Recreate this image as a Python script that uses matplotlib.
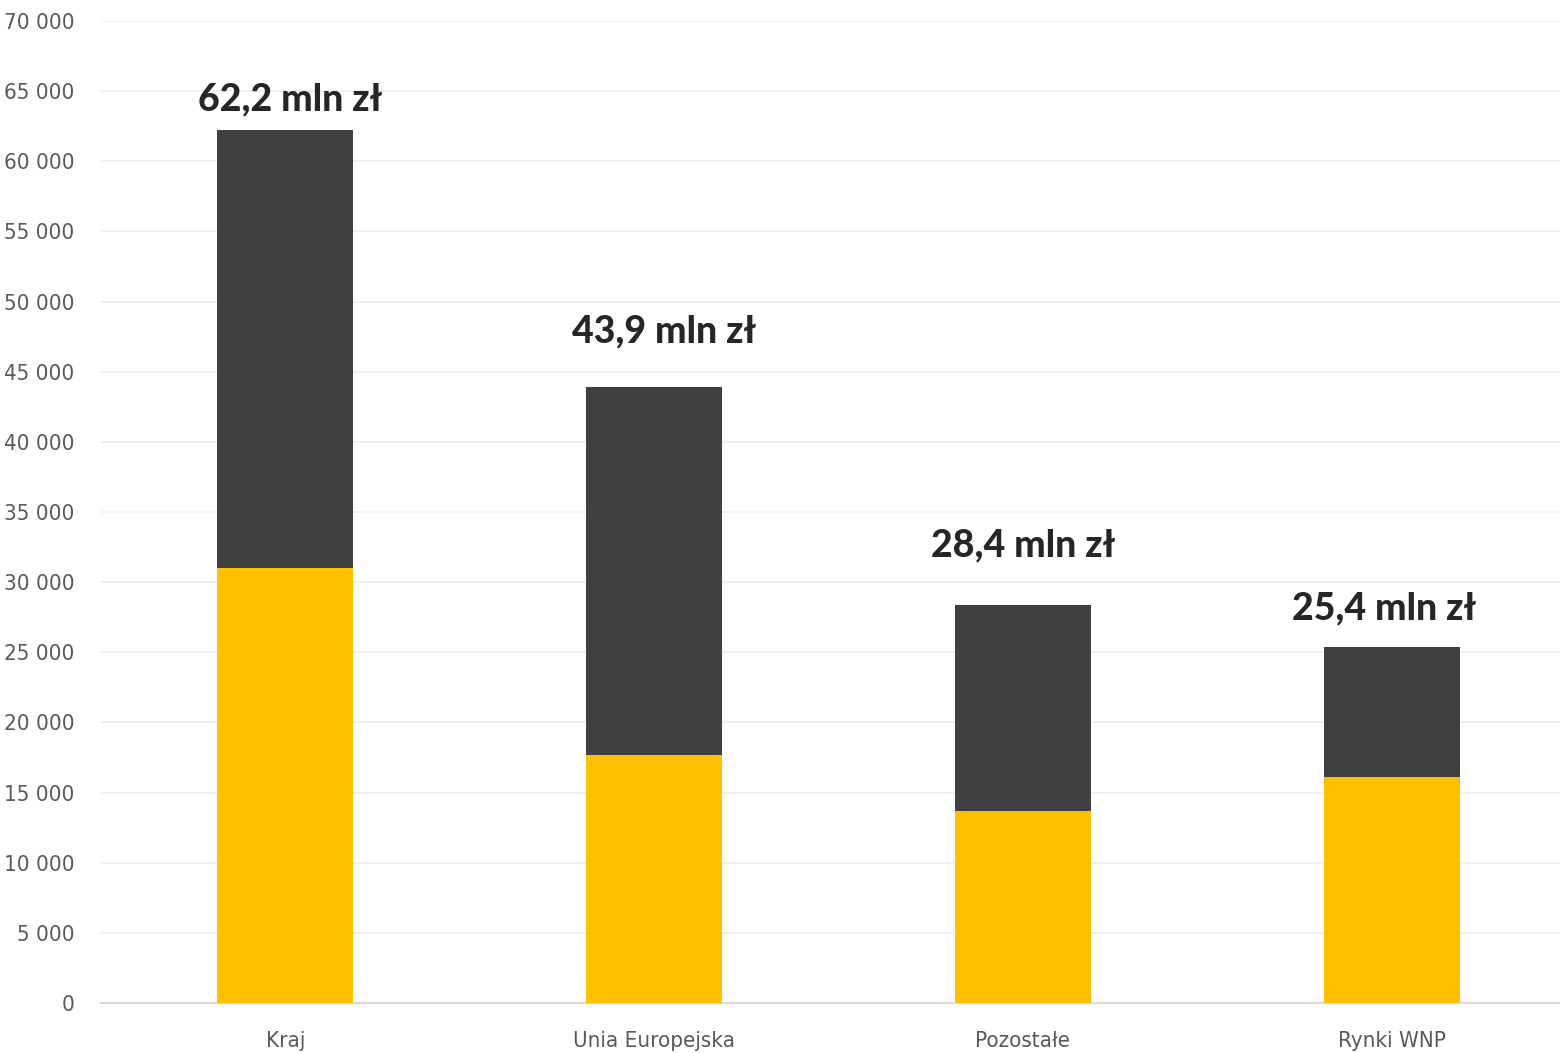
import matplotlib
matplotlib.use("Agg")
import matplotlib.pyplot as plt
import matplotlib.ticker as ticker
import numpy as np

### Data ###
categories = ["Kraj", "Unia Europejska", "Pozostałe", "Rynki WNP"]
bottom_part = [31000, 17700, 13700, 16100]
totals = [62200, 43900, 28400, 25400]
top_labels = ["62,2 mln zł", "43,9 mln zł", "28,4 mln zł", "25,4 mln zł"]
y_ticks = list(range(0, 70001, 5000))

top_part = [t - b for t, b in zip(totals, bottom_part)]

# label nudges (pixels) -- the original labels were placed by hand
label_dx = [5, 10, 0, -7]
label_dy = [20, 45, 48, 27]

label_font = ["Lato", "DejaVu Sans"]

fig = plt.figure(figsize=(15.6, 10.53), dpi=100)
ax = fig.add_axes([101 / 1560, 1 - 1003 / 1053, 1475 / 1560, 982 / 1053])

x = np.arange(len(categories))
ax.bar(x, bottom_part, width=0.369, color="#ffc000", zorder=3)
ax.bar(x, top_part, bottom=bottom_part, width=0.369, color="#404040", zorder=3)

for xi, tot, lab, dx, dy in zip(x, totals, top_labels, label_dx, label_dy):
    ax.annotate(lab, (xi, tot), xytext=(dx, dy), textcoords="offset pixels",
                ha="center", va="baseline", fontsize=27, fontweight="black",
                family=label_font, color="#262626")

ax.set_xlim(-0.5, len(categories) - 0.5)
ax.set_ylim(0, 70000)
ax.set_yticks(y_ticks)
ax.yaxis.set_major_formatter(ticker.FuncFormatter(lambda v, p: f"{int(v):,}".replace(",", " ")))
ax.set_xticks(x)
ax.set_xticklabels(categories)

ax.grid(axis="y", color="#efefef", lw=1.3, zorder=0)
for s in ["left", "right", "top"]:
    ax.spines[s].set_visible(False)
ax.spines["bottom"].set_color("#d9d9d9")
ax.spines["bottom"].set_linewidth(1.5)
ax.tick_params(axis="both", length=0, labelcolor="#595959", labelsize=16)
ax.tick_params(axis="y", pad=19)
ax.tick_params(axis="x", pad=20)
for t in ax.get_xticklabels() + ax.get_yticklabels():
    t.set_family("DejaVu Sans")
    t.set_fontstretch("condensed")

fig.savefig("out.png", dpi=100, facecolor="white")
